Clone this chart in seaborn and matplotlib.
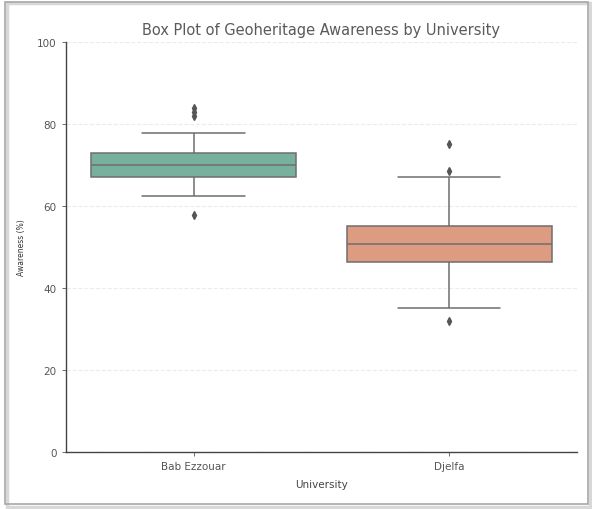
import matplotlib
matplotlib.use("Agg")
import matplotlib.pyplot as plt
from matplotlib.patches import Rectangle
import pandas as pd
import seaborn as sns

# Survey scores per university (awareness, %)
universities = ["Bab Ezzouar", "Djelfa"]
bab_ezzouar = [57.8, 62.5, 64.0, 65.3, 66.2, 67.0, 68.1, 68.9, 69.4, 69.8, 70.0,
               70.6, 71.3, 71.9, 72.4, 72.8, 74.5, 77.8, 81.9, 82.9, 83.8]
djelfa = [31.8, 35.0, 39.5, 42.8, 45.1, 46.4, 47.5, 48.6, 49.4, 50.1, 50.6,
          51.5, 52.6, 53.4, 54.3, 55.0, 58.2, 61.7, 67.0, 68.4, 75.1]
y_ticks = [0, 20, 40, 60, 80, 100]

df = pd.DataFrame({
    "University": [universities[0]] * len(bab_ezzouar) + [universities[1]] * len(djelfa),
    "Awareness (%)": bab_ezzouar + djelfa,
})

sns.set_theme(style="ticks")
plt.rcParams["font.family"] = ["DejaVu Sans"]

fig = plt.figure(figsize=(5.92, 5.10), dpi=100)
ax = fig.add_axes([0.111, 0.112, 0.864, 0.804])

sns.boxplot(data=df, x="University", y="Awareness (%)", hue="University",
            palette="Set2", saturation=0.6, order=universities,
            hue_order=universities, legend=False, ax=ax,
            linecolor="#6e6e6e", linewidth=1.1,
            flierprops=dict(marker="d", markersize=4,
                            markerfacecolor="#555555",
                            markeredgecolor="#555555"))

ax.set_ylim(0, 100)
ax.set_yticks(y_ticks)
ax.yaxis.grid(True, linestyle="--", color="#ececec", linewidth=0.8)
ax.set_axisbelow(True)

ax.set_title("Box Plot of Geoheritage Awareness by University",
             fontsize=10.5, color="#5a5a5a", pad=6)
ax.set_xlabel("University", fontsize=7.5, color="#444444", labelpad=6)
ax.set_ylabel("Awareness (%)", fontsize=5.5, color="#333333", labelpad=8)
ax.tick_params(axis="both", labelsize=7.5, labelcolor="#555555",
               length=3, width=0.6, color="#555555")

sns.despine(ax=ax)
for side in ("left", "bottom"):
    ax.spines[side].set_color("#444444")
    ax.spines[side].set_linewidth(1.0)

# Framed card around the figure with a soft drop shadow
W, H = 592, 510
fig.patches.append(Rectangle((7 / W, 1 - 508 / H), 583 / W, 504 / H,
                             transform=fig.transFigure, facecolor="none",
                             edgecolor="#d8d8d8", linewidth=2.5, zorder=0))
fig.patches.append(Rectangle((5 / W, 1 - 505 / H), 583 / W, 502 / H,
                             transform=fig.transFigure, facecolor="none",
                             edgecolor="#a8a8a8", linewidth=1.2, zorder=1))

fig.savefig("out.png", dpi=100)
